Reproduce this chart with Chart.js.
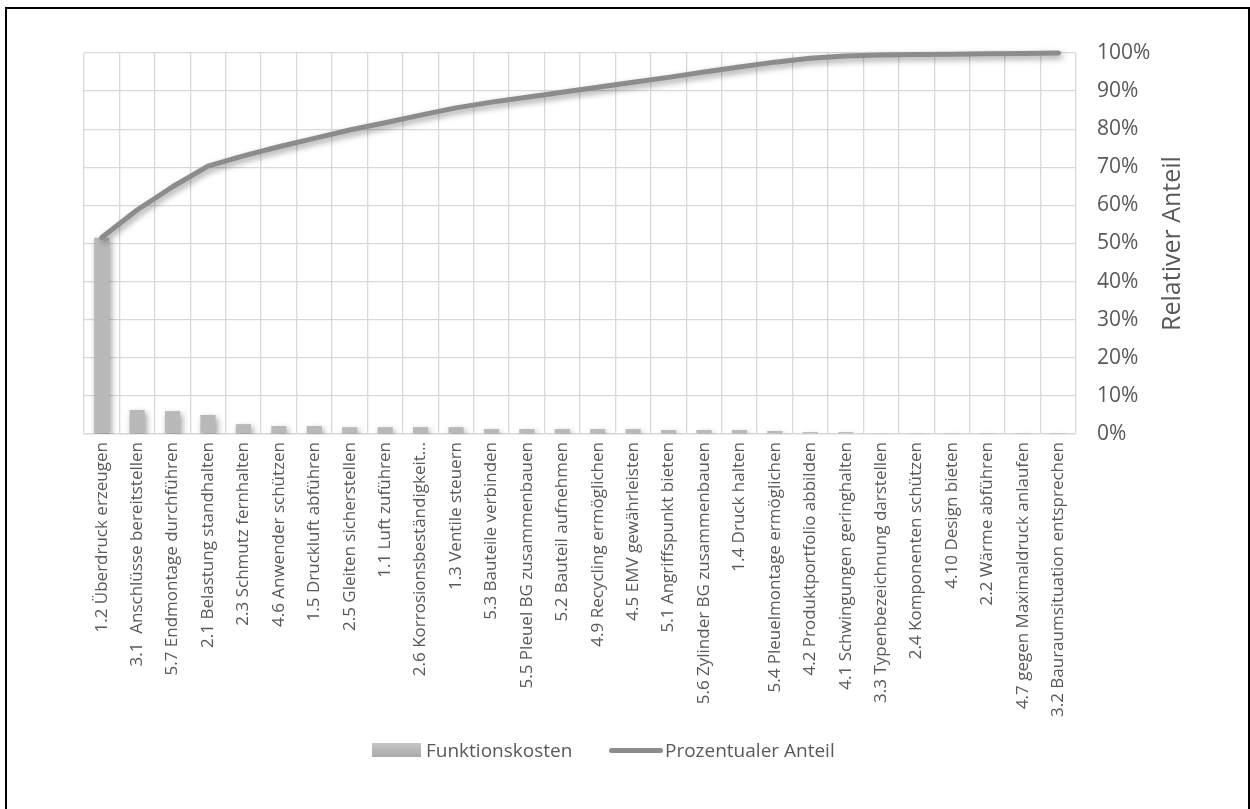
<!DOCTYPE html>
<html>
<head>
<meta charset="utf-8">
<script src="https://cdn.jsdelivr.net/npm/chart.js@4/dist/chart.umd.min.js"></script>
<style>
  html, body { margin: 0; padding: 0; background: #fff; }
  #wrap { position: relative; width: 1250px; height: 809px; overflow: hidden; background: #fff; }
  #frame { position: absolute; left: 5px; top: 7px; width: 1245px; height: 808px; border: 2.5px solid #000; box-sizing: border-box; pointer-events: none; }
  #chart { position: absolute; left: 0; top: 0; }
  .lg-item { position: absolute; top: 736px; height: 28px; display: flex; align-items: center;
             font-family: "Open Sans", sans-serif; font-size: 19px; color: #595959; white-space: nowrap; }
  .sw-bar { width: 49px; height: 14px; background: linear-gradient(#c6c6c6, #a9a9a9); margin-right: 5px; }
  .sw-line { width: 54px; height: 5px; border-radius: 3px; background: #8c8c8c; margin-right: 2px; }
</style>
</head>
<body>
<div id="wrap">
  <canvas id="chart" width="1250" height="809"></canvas>
  <div id="frame"></div>
  <div class="lg-item" style="left:372px"><span class="sw-bar"></span><span>Funktionskosten</span></div>
  <div class="lg-item" style="left:609px"><span class="sw-line"></span><span>Prozentualer Anteil</span></div>
</div>
<script>
// Functions, sorted by cost (Pareto order)
const categories = [
  "1.2 Überdruck erzeugen",
  "3.1  Anschlüsse bereitstellen",
  "5.7 Endmontage durchführen",
  "2.1 Belastung standhalten",
  "2.3 Schmutz fernhalten",
  "4.6 Anwender schützen",
  "1.5 Druckluft abführen",
  "2.5 Gleiten sicherstellen",
  "1.1 Luft zuführen",
  "2.6 Korrosionsbeständigkeit…",
  "1.3 Ventile steuern",
  "5.3 Bauteile verbinden",
  "5.5 Pleuel BG zusammenbauen",
  "5.2 Bauteil aufnehmen",
  "4.9 Recycling ermöglichen",
  "4.5 EMV gewährleisten",
  "5.1 Angriffspunkt bieten",
  "5.6 Zylinder BG zusammenbauen",
  "1.4 Druck halten",
  "5.4 Pleuelmontage ermöglichen",
  "4.2 Produktportfolio abbilden",
  "4.1 Schwingungen geringhalten",
  "3.3 Typenbezeichnung darstellen",
  "2.4 Komponenten schützen",
  "4.10 Design bieten",
  "2.2 Wärme abführen",
  "4.7 gegen Maximaldruck anlaufen",
  "3.2 Bauraumsituation entsprechen"
];

// Cost of each function, as share of total cost (%)
const functionCosts = [
  51.5, 6.3, 6.0, 5.0, 2.6, 2.1, 2.1, 1.8, 1.8, 1.8,
  1.8, 1.3, 1.3, 1.3, 1.3, 1.3, 1.05, 1.05, 1.05, 0.8,
  0.5, 0.5, 0.25, 0.05, 0.03, 0.02, 0.01, 0.01
];

// Cumulative share (%)
const cumulativeShare = [
  51.6, 58.8, 64.9, 70.3, 73.0, 75.4, 77.6, 79.8, 81.7, 83.7,
  85.6, 87.1, 88.4, 89.7, 91.0, 92.3, 93.6, 95.0, 96.3, 97.6,
  98.6, 99.2, 99.5, 99.6, 99.7, 99.8, 99.9, 100
];

const shareTickValues = [0, 10, 20, 30, 40, 50, 60, 70, 80, 90, 100];

const TEXT = '#595959';
const GRID = '#d9d9d9';

// soft drop shadow under bars and the line
const shadowPlugin = {
  id: 'softShadow',
  beforeDatasetDraw(chart) {
    const ctx = chart.ctx;
    ctx.save();
    ctx.shadowColor = 'rgba(0,0,0,0.38)';
    ctx.shadowBlur = 6;
    ctx.shadowOffsetX = 2;
    ctx.shadowOffsetY = 3;
  },
  afterDatasetDraw(chart) {
    chart.ctx.restore();
  }
};

// right axis title, reading bottom to top
const axisTitlePlugin = {
  id: 'rightAxisTitle',
  afterDraw(chart) {
    const ctx = chart.ctx;
    const area = chart.chartArea;
    ctx.save();
    ctx.translate(1173, (area.top + area.bottom) / 2);
    ctx.rotate(-Math.PI / 2);
    ctx.font = '25px "Open Sans"';
    ctx.fillStyle = TEXT;
    ctx.textAlign = 'center';
    ctx.textBaseline = 'middle';
    ctx.fillText('Relativer Anteil', 0, 0);
    ctx.restore();
  }
};

new Chart(document.getElementById('chart'), {
  type: 'bar',
  data: {
    labels: categories,
    datasets: [
      {
        type: 'line',
        label: 'Prozentualer Anteil',
        data: cumulativeShare,
        borderColor: '#8c8c8c',
        backgroundColor: '#8c8c8c',
        borderWidth: 5,
        pointRadius: 0,
        tension: 0,
        borderCapStyle: 'round',
        borderJoinStyle: 'round',
        clip: false,
        order: 0
      },
      {
        label: 'Funktionskosten',
        data: functionCosts,
        backgroundColor: '#b9b9b9',
        borderWidth: 0,
        categoryPercentage: 1,
        barPercentage: 0.43,
        order: 1
      }
    ]
  },
  options: {
    responsive: false,
    animation: false,
    devicePixelRatio: 1,
    layout: { padding: { left: 84, top: 53, right: 0, bottom: 0 } },
    plugins: {
      legend: { display: false },
      tooltip: { enabled: false }
    },
    scales: {
      x: {
        offset: true,
        grid: { offset: true, color: GRID, lineWidth: 1.3, drawTicks: false },
        border: { color: GRID, width: 1.3 },
        ticks: {
          autoSkip: false,
          minRotation: 90,
          maxRotation: 90,
          padding: 8,
          color: TEXT,
          font: { family: 'Open Sans', size: 17 }
        },
        afterFit(scale) { scale.height = 375; }
      },
      y: {
        position: 'right',
        min: 0,
        max: 100,
        afterBuildTicks(scale) { scale.ticks = shareTickValues.map(v => ({ value: v })); },
        ticks: {
          padding: 21,
          color: TEXT,
          font: { family: 'Open Sans', size: 21 },
          callback: v => v + '%'
        },
        grid: {
          drawTicks: false,
          lineWidth: 1.3,
          color: ctx => ctx.tick && ctx.tick.value === 0 ? '#c4c4c4' : GRID
        },
        border: { display: false },
        afterFit(scale) { scale.width = 174; }
      }
    }
  },
  plugins: [shadowPlugin, axisTitlePlugin]
});
</script>
</body>
</html>
